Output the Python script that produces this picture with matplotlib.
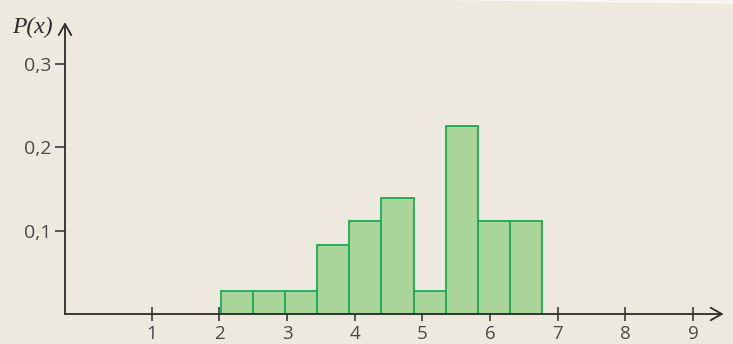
import matplotlib.pyplot as plt
from matplotlib.patches import Polygon
import numpy as np

# donnees
gauches = [2.02, 2.495, 2.97, 3.445, 3.92, 4.395, 4.87, 5.345, 5.82, 6.295]
largeur = 0.475
probas = [0.027, 0.027, 0.027, 0.083, 0.111, 0.139, 0.028, 0.225, 0.111, 0.111]
xticks = [1, 2, 3, 4, 5, 6, 7, 8, 9]
yticks = [0.1, 0.2, 0.3]
ylabels = ['0,1', '0,2', '0,3']

fond = '#ede9df'
remplissage = '#a9d59b'
bord = '#19ad55'
axe = '#2b2b2b'
texte = '#4a4a4a'

fig = plt.figure(figsize=(7.33, 3.44), dpi=100)
fig.patch.set_facecolor(fond)
# coin de page blanc en haut a droite
fig.patches.append(Polygon([[0.6, 1.0], [1.0, 1.0], [1.0, 0.988]], closed=True,
                           transform=fig.transFigure, facecolor='#f7f6f2', edgecolor='none'))

ax = fig.add_axes([65/733, 30/344, 662/733, 296/344])
ax.set_facecolor('none')
ax.set_xlim(-0.28, 9.5)
ax.set_ylim(0, 0.355)

ax.bar(gauches, probas, width=largeur, align='edge', color=remplissage,
       edgecolor=bord, linewidth=1.3, zorder=2)

for s in ax.spines.values():
    s.set_visible(False)

# axes avec fleches
fleche = dict(arrowstyle='->,head_length=0.8,head_width=0.45', color=axe, lw=1.3,
              shrinkA=0, shrinkB=0)
ax.annotate('', xy=(9.45, 0), xytext=(-0.28, 0), arrowprops=fleche,
            annotation_clip=False, zorder=3)
ax.annotate('', xy=(-0.28, 0.35), xytext=(-0.28, 0), arrowprops=fleche,
            annotation_clip=False, zorder=3)

ax.set_xticks(xticks)
ax.set_xticklabels([str(v) for v in xticks])
ax.set_yticks(yticks)
ax.set_yticklabels(ylabels)
ax.tick_params(axis='x', direction='inout', length=10, width=1.1, color=axe,
               labelcolor=texte, labelsize=13.5, pad=3)
ax.tick_params(axis='y', direction='out', length=7, width=1.1, color=axe,
               labelcolor=texte, labelsize=14, pad=3)
for lab in ax.get_xticklabels() + ax.get_yticklabels():
    lab.set_family('Open Sans')

ax.text(-0.46, 0.344, 'P(x)', family='Liberation Serif', style='italic', fontsize=17,
        color=axe, ha='right', va='center')

fig.savefig('out.png', dpi=100, facecolor=fig.get_facecolor())
